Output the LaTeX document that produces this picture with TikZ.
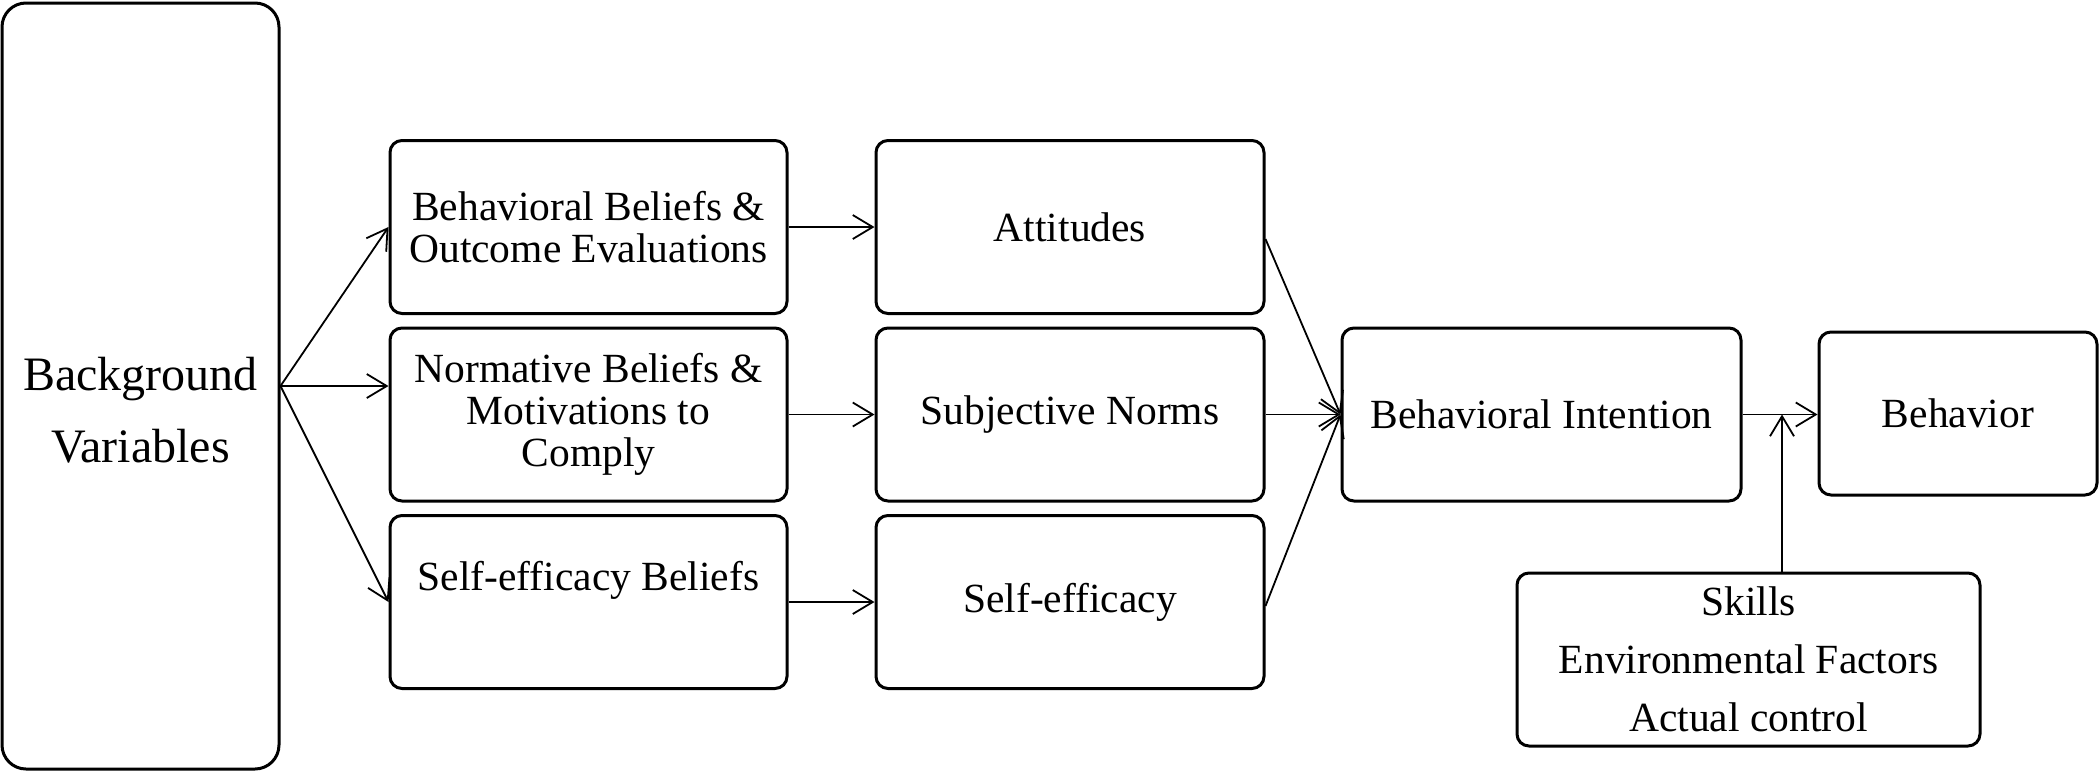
\documentclass[tikz,border=0pt]{standalone}
\usepackage{fontspec}
\setmainfont{Liberation Serif}
\usetikzlibrary{arrows.meta}
\begin{document}
\begin{tikzpicture}[x=0.5pt,y=-0.5pt,
  box/.style={draw, line width=1.5pt, rounded corners=6pt, align=center, inner sep=0pt, font=\fontsize{20.75}{21}\selectfont},
  colA/.style={box, minimum width=198.5pt, minimum height=86.5pt},
  colB/.style={box, minimum width=194pt, minimum height=86.5pt},
  arr/.style={line width=0.9pt, -{Straight Barb[length=10pt,width=12pt,line width=0.9pt]}}]
\useasboundingbox (0,0) rectangle (2100,772);
\fill[white] (0,0) rectangle (2100,772);
% background variables
\node[box, rounded corners=12pt, minimum width=138.5pt, minimum height=383pt,
  label={[yshift=-12pt, align=center, font=\fontsize{24}{36}\selectfont]center:Background\\Variables}] (bg) at (140.5,386) {};
% column 1
\node[colA] (c1a) at (588.5,227) {Behavioral Beliefs \&\\Outcome Evaluations};
\node[colA] (c1b) at (588.5,414.5) {Normative Beliefs \&\\Motivations to\\Comply};
\node[colA, label={[yshift=11pt, font=\fontsize{20.75}{21}\selectfont]center:Self-efficacy Beliefs}] (c1c) at (588.5,602) {};
% column 2
\node[colB] (c2a) at (1070,227) {Attitudes};
\node[colB] (c2b) at (1070,414.5) {Subjective Norms};
\node[colB] (c2c) at (1070,602) {Self-efficacy};
% intention, behavior, control
\node[box, minimum width=199.5pt, minimum height=86.5pt] (bi) at (1541.5,414.5) {Behavioral Intention};
\node[box, minimum width=139pt, minimum height=81.5pt] (beh) at (1958,413.5) {Behavior};
\node[box, minimum width=231.5pt, minimum height=86.5pt, font=\fontsize{20.75}{29}\selectfont] (sk) at (1748.5,659.5) {Skills\\Environmental Factors\\Actual control};
% connectors
\draw[arr] (bg.east) -- (c1a.west);
\draw[arr] (bg.east) -- (bg.east -| c1b.west);
\draw[arr] (bg.east) -- (c1c.west);
\draw[arr] (c1a.east) -- (c2a.west);
\draw[arr] (c1b.east) -- (c2b.west);
\draw[arr] (c1c.east) -- (c2c.west);
\draw[arr] ([yshift=-6pt]c2a.east) -- (bi.west);
\draw[arr] (c2b.east) -- (bi.west);
\draw[arr] ([yshift=-2pt]c2c.east) -- (bi.west);
\draw[arr] (bi.east) -- (bi.east -| beh.west);
\coordinate (skt) at ([xshift=16.75pt]sk.north);
\draw[arr] (skt) -- (skt |- bi.east);
\end{tikzpicture}
\end{document}
